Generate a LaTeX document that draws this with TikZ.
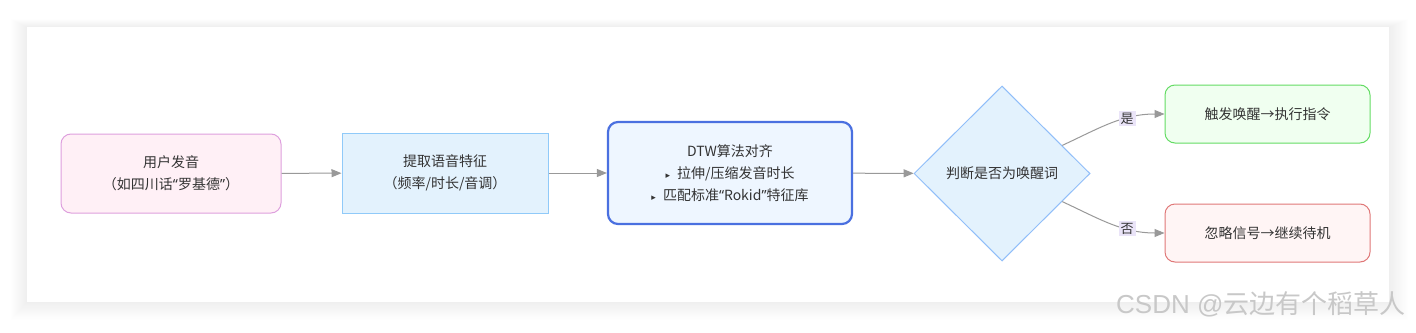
\documentclass[tikz,border=0pt]{standalone}
\usepackage{fontspec}
\setmainfont{Noto Sans CJK SC}
\newfontfamily\symfont{DejaVu Sans}
\newfontfamily\quotefont{Noto Sans}
\newfontfamily\markfont{Liberation Sans}
\usepackage{xcolor}
\usetikzlibrary{shapes.geometric,arrows.meta}

\definecolor{txtgray}{RGB}{51,51,51}
\definecolor{arrgray}{RGB}{153,153,153}
\definecolor{pinkfill}{RGB}{255,240,246}
\definecolor{pinkline}{RGB}{222,160,222}
\definecolor{bluefill}{RGB}{227,242,253}
\definecolor{blueline}{RGB}{144,202,249}
\definecolor{dtwfill}{RGB}{238,246,255}
\definecolor{dtwline}{RGB}{74,112,224}
\definecolor{dialine}{RGB}{144,190,249}
\definecolor{greenfill}{RGB}{240,255,240}
\definecolor{greenline}{RGB}{100,220,100}
\definecolor{redfill}{RGB}{255,245,245}
\definecolor{redline}{RGB}{224,120,120}
\definecolor{tagbg}{RGB}{234,228,248}
\definecolor{wmgray}{RGB}{200,200,200}

\newcommand{\openq}{{\quotefont “}}
\newcommand{\closeq}{{\quotefont ”}}
\newcommand{\tri}{{\symfont\fontsize{9}{9}\selectfont ▸}\hspace{7pt}}

\begin{document}
\begin{tikzpicture}[x=1pt,y=-1pt,
  every node/.style={font=\fontsize{14}{22}\selectfont, text=txtgray, align=center},
  box/.style={draw, line width=1pt, inner sep=0pt},
  rbox/.style={box, rounded corners=10pt},
  flow/.style={draw=arrgray, line width=1pt, -{Triangle[length=10pt,width=8pt]}},
  tag/.style={fill=tagbg, inner sep=2pt, font=\fontsize{13}{13}\selectfont}]
\def\cardl{27}
\def\cardt{27}
\def\cardr{1389}
\def\cardb{302}

\useasboundingbox (0,0) rectangle (1416,332);
\fill[white] (0,0) rectangle (1416,332);

% soft shadow of the card
\foreach \s in {1,...,16} {
    \fill[black, opacity=0.0045]
        (\cardl-\s,\cardt-\s*0.5) rectangle (\cardr+\s*1.2,\cardb+\s*1.1);
}
\fill[white] (\cardl,\cardt) rectangle (\cardr,\cardb);

\node[rbox, fill=pinkfill, draw=pinkline, minimum width=220pt, minimum height=79pt]
    (user) at (171,173.5) {用户发音\\（如四川话\openq 罗基德\closeq）};
\node[box, fill=bluefill, draw=blueline, minimum width=206pt, minimum height=80pt]
    (feat) at (445,173) {提取语音特征\\（频率/时长/音调）};
\node[rbox, fill=dtwfill, draw=dtwline, line width=2.2pt, minimum width=244pt, minimum height=102pt]
    (dtw) at (730,173) {DTW算法对齐\\\tri 拉伸/压缩发音时长\\\tri 匹配标准\openq Rokid\closeq 特征库};
\node[diamond, aspect=1, draw=dialine, fill=bluefill, line width=1pt, inner sep=0pt,
    minimum width=176pt, minimum height=175pt]
    (judge) at (1002,173.5) {判断是否为唤醒词};
\node[rbox, fill=greenfill, draw=greenline, minimum width=205pt, minimum height=58pt]
    (wake) at (1267.5,114) {触发唤醒→执行指令};
\node[rbox, fill=redfill, draw=redline, minimum width=205pt, minimum height=58pt]
    (ignore) at (1267.5,233) {忽略信号→继续待机};

\draw[flow] (user) -- (feat);
\draw[flow] (feat) -- (dtw);
\draw[flow] (dtw) -- (judge);
\draw[flow] (judge.25) to[out=25,in=180] node[tag, pos=0.66] {是} (wake.west);
\draw[flow] (judge.-25) to[out=-25,in=180] node[tag, pos=0.66] {否} (ignore.west);

\node[font=\fontsize{26}{26}\selectfont, text=wmgray, anchor=east] (mark) at (1409,304) {{\markfont CSDN @}云边有个稻草人};
\end{tikzpicture}
\end{document}
